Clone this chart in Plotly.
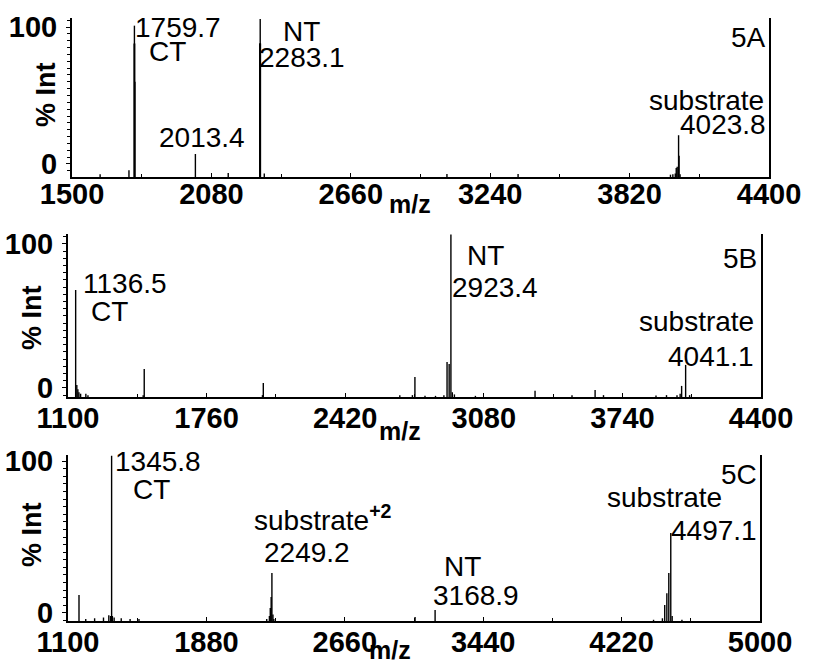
import plotly.graph_objects as go

W, H = 813, 663

# ---------------- panel 5A ----------------
a_range = [1500, 4400]
a_ticks = [1500, 2080, 2660, 3240, 3820, 4400]
a_yrange = [-9.5, 106.6]
a_mz = [1617, 1737, 1758.7, 1759.7, 1760.7, 1761.7, 2013.4, 2150, 2281.1, 2282.1,
        2283.1, 2284.1, 2300, 3060, 3356, 3990, 4000, 4010, 4014, 4018, 4023.8,
        4025.8, 4030]
a_int = [-7.5, -4.5, 88, 101, 88, 60, 7.3, -6.5, 88, 88,
         105.8, 88, -7, -7.3, -7.3, -7.8, -7.5, -7, -3, -2, 21,
         6, -7.5]

# ---------------- panel 5B ----------------
b_range = [1100, 4400]
b_ticks = [1100, 1760, 2420, 3080, 3740, 4400]
b_yrange = [-6.3, 106.9]
b_mz = [1136.5, 1142, 1147, 1152, 1160, 1185, 1195, 1458, 1463, 2026, 2030,
        2680, 2740, 2752, 2800, 2850, 2890, 2905, 2915, 2923.4, 2930, 2940,
        3040, 3324, 3500, 3610, 3650, 3900, 3950, 4000, 4015, 4022, 4041.1, 4060]
b_int = [68, 2, -1, -3, -4, -4, -5, -5, 13.2, -5, 3.5,
         -5, -5, 7.6, -5.5, -5.5, -5, 18, 16.7, 106.5, -3, -4.5,
         -5.5, -2, -5, -1.4, -5, -5.2, -5, -5, -4, 1.4, 16, -5]

# ---------------- panel 5C ----------------
c_range = [1100, 5000]
c_ticks = [1100, 1880, 2660, 3440, 4220, 5000]
c_yrange = [-5.3, 104]
c_mz = [1162, 1200, 1250, 1300, 1330, 1340, 1345.8, 1350, 1360, 1400, 1450,
        1500, 2220, 2235, 2240, 2245, 2249.2, 2255, 2260, 3056, 3168.9,
        4400, 4450, 4463, 4475, 4486, 4497.1, 4505, 4560]
c_int = [11.8, -4, -3.5, -3, -1.5, -2, 103.5, -2, -3, -3.5, -4,
         -4, -4, -2, 3.3, 10.5, 26.3, -1, -4, -2.6, 2,
         -4.5, -3.5, 5.3, 13, 26.3, 52.6, -2, -4.5]

# plot areas in pixels: (left, right, top, bottom) and x tick label offsets
boxes = [(72, 769, 18, 177), (68, 761, 234, 397), (68, 760, 455, 621)]
xlabel_standoff = [-10, -6, -6]

FONT = "Liberation Sans, Arial, sans-serif"
fig = go.Figure()

panels = [
    (a_range, a_ticks, a_yrange, a_mz, a_int),
    (b_range, b_ticks, b_yrange, b_mz, b_int),
    (c_range, c_ticks, c_yrange, c_mz, c_int),
]

for i, (xr, xt, yr, mz, inten) in enumerate(panels, start=1):
    xs, ys = [], []
    for m, h in zip(mz, inten):
        xs += [m, m, None]
        ys += [yr[0], h, None]
    sfx = "" if i == 1 else str(i)
    fig.add_trace(go.Scatter(x=xs, y=ys, mode="lines",
                             line=dict(color="black", width=1.4),
                             xaxis="x" + sfx, yaxis="y" + sfx,
                             showlegend=False, hoverinfo="skip"))
    l, r, t, b = boxes[i - 1]
    fig.layout["xaxis" + sfx] = dict(
        domain=[l / W, r / W], range=xr, anchor="y" + sfx, automargin=False,
        tickvals=xt, ticktext=[str(v) for v in xt],
        tickfont=dict(family=FONT, size=29, color="black", weight="bold"),
        ticklabelstandoff=xlabel_standoff[i - 1],
        showline=True, linewidth=2, linecolor="black",
        ticks="inside", ticklen=4, tickcolor="black", tickwidth=1,
        minor=dict(dtick=(xt[1] - xt[0]) / 2, tick0=xt[0], ticks="inside",
                   ticklen=3, tickcolor="black"),
        showgrid=False, zeroline=False, fixedrange=True)
    fig.layout["yaxis" + sfx] = dict(
        domain=[1 - b / H, 1 - t / H], range=yr, anchor="x" + sfx, automargin=False,
        tickvals=[0, 100], ticktext=["0", "100"],
        tickfont=dict(family=FONT, size=29, color="black", weight="bold"),
        ticklabelstandoff=3,
        showline=True, linewidth=2, linecolor="black", mirror=True,
        ticks="outside", ticklen=4, tickcolor="black", tickwidth=1,
        minor=dict(dtick=5, tick0=0, ticks="outside", ticklen=3,
                   tickcolor="black"),
        showgrid=False, zeroline=False, fixedrange=True)

ann_font = dict(family=FONT, size=28, color="black")
bold_font = dict(family=FONT, size=27, color="black", weight="bold")


def label(panel, text, x, y, xanchor="left", xshift=0, domain_x=False):
    sfx = "" if panel == 1 else str(panel)
    fig.add_annotation(
        text=text, x=x, y=y, xref=("x" + sfx + " domain") if domain_x else "x" + sfx,
        yref="y" + sfx, xanchor=xanchor, yanchor="middle", xshift=xshift,
        showarrow=False, font=ann_font, borderpad=0)


# 5A labels
label(1, "1759.7", a_mz[3], 100, xshift=0)
label(1, "CT", a_mz[3], 81.8, xshift=14)
label(1, "2013.4", a_mz[6], 19, xanchor="center", xshift=7)
label(1, "NT", a_mz[10], 96.4, xshift=22)
label(1, "2283.1", a_mz[10], 78, xshift=-2)
label(1, "5A", 1, 92, xanchor="right", xshift=-2, domain_x=True)
label(1, "substrate", 1, 46, xanchor="right", xshift=-4, domain_x=True)
label(1, "4023.8", 1, 29.2, xanchor="right", xshift=-2, domain_x=True)

# 5B labels
label(2, "1136.5", b_mz[0], 72.2, xshift=6)
label(2, "CT", b_mz[0], 52.8, xshift=14)
label(2, "NT", b_mz[19], 91.7, xshift=15)
label(2, "2923.4", b_mz[19], 70, xshift=0)
label(2, "5B", 1, 89.6, xanchor="right", xshift=-3, domain_x=True)
label(2, "substrate", 1, 45.8, xanchor="right", xshift=-6, domain_x=True)
label(2, "4041.1", 1, 21.5, xanchor="right", xshift=-6, domain_x=True)

# 5C labels
label(3, "1345.8", c_mz[6], 100, xshift=2)
label(3, "CT", c_mz[6], 81.6, xshift=20)
label(3, "substrate<sup><b>+2</b></sup>", c_mz[16], 62.5, xshift=-19)
label(3, "2249.2", c_mz[16], 39.5, xshift=-9)
label(3, "NT", c_mz[20], 30.3, xshift=8)
label(3, "3168.9", c_mz[20], 11.2, xshift=-3)
label(3, "5C", 1, 91.4, xanchor="right", xshift=-2, domain_x=True)
label(3, "substrate", 1, 75.7, xanchor="right", xshift=-37, domain_x=True)
label(3, "4497.1", 1, 54, xanchor="right", xshift=-2, domain_x=True)

# axis titles
for (cx, cy) in [(46, 95), (32, 318), (32, 535)]:
    fig.add_annotation(text="% Int", x=cx / W, y=1 - cy / H, xref="paper",
                       yref="paper", textangle=-90, showarrow=False,
                       font=bold_font, xanchor="center", yanchor="middle")
for (cx, cy) in [(410, 204), (400, 431), (390, 650)]:
    fig.add_annotation(text="m/z", x=cx / W, y=1 - cy / H, xref="paper",
                       yref="paper", showarrow=False,
                       font=dict(family=FONT, size=25, color="black", weight="bold"),
                       xanchor="center", yanchor="middle")

fig.update_layout(template="none", width=W, height=H,
                  margin=dict(l=0, r=0, t=0, b=0),
                  paper_bgcolor="white", plot_bgcolor="white")

fig.write_html("out.html")
